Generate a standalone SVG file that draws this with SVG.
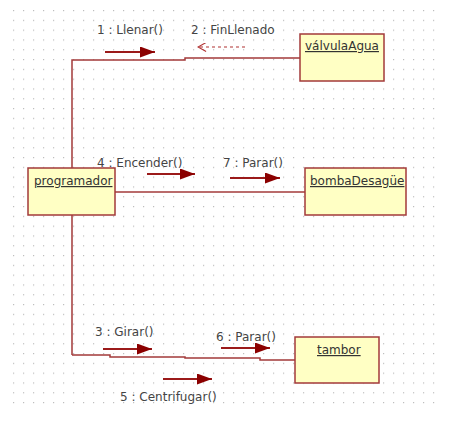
<svg xmlns="http://www.w3.org/2000/svg" width="454" height="425" viewBox="0 0 454 425">
<style>
.node rect{fill:#ffffc4;stroke:#a33a3a;stroke-width:1.5}
.node text{font-family:Tahoma,"DejaVu Sans","Liberation Sans",sans-serif;font-size:12px;fill:#333;text-decoration:underline}
.lbl{font-family:Tahoma,"DejaVu Sans","Liberation Sans",sans-serif;font-size:12px;fill:#444}
.link{fill:none;stroke:#a33a3a;stroke-width:1.5}
.msg{stroke:#9b1a1a;stroke-width:2;fill:none}
.ret{stroke:#b03030;stroke-width:1.2;fill:none;stroke-dasharray:3,3}
</style>
<defs>
<pattern id="grid" x="13" y="10" width="10" height="9.8" patternUnits="userSpaceOnUse">
<rect x="0" y="0" width="1.2" height="1.2" fill="#bdbdbd"/>
</pattern>
<marker id="fa" viewBox="0 0 15 11" refX="15" refY="5.5" markerWidth="15" markerHeight="11" markerUnits="userSpaceOnUse" orient="auto">
<path d="M0,0 L15,5.5 L0,11 Z" fill="#8b0000"/>
</marker>
<marker id="oa" viewBox="0 0 10 10" refX="9" refY="5" markerWidth="10" markerHeight="9" markerUnits="userSpaceOnUse" orient="auto">
<path d="M0,0 L9,5 L0,10" fill="none" stroke="#b03030" stroke-width="1.2"/>
</marker>
</defs>
<rect width="454" height="425" fill="#fff"/>
<rect x="10" y="8" width="430" height="402" fill="url(#grid)"/>
<g id="connectors">
<polyline class="link" points="72,355 72,60 185,60 185,58 300,58"/>
<line class="link" x1="115" y1="192" x2="305" y2="192"/>
<polyline class="link" points="72,355 110,355 110,357 185,357 185,358 260,358 260,360 295,360"/>
<line class="msg" x1="105" y1="52" x2="155" y2="52" marker-end="url(#fa)"/>
<line class="ret" x1="245" y1="47" x2="198" y2="47" marker-end="url(#oa)"/>
<line class="msg" x1="147" y1="174" x2="195" y2="174" marker-end="url(#fa)"/>
<line class="msg" x1="230" y1="178" x2="280" y2="178" marker-end="url(#fa)"/>
<line class="msg" x1="103" y1="349" x2="152" y2="349" marker-end="url(#fa)"/>
<line class="msg" x1="221" y1="348" x2="270" y2="348" marker-end="url(#fa)"/>
<line class="msg" x1="163" y1="379" x2="212" y2="379" marker-end="url(#fa)"/>
<text class="lbl" x="97" y="34">1 : Llenar()</text>
<text class="lbl" x="191" y="34">2 : FinLlenado</text>
<text class="lbl" x="97" y="167">4 : Encender()</text>
<text class="lbl" x="223" y="167">7 : Parar()</text>
<text class="lbl" x="95" y="336">3 : Girar()</text>
<text class="lbl" x="216" y="341">6 : Parar()</text>
<text class="lbl" x="120" y="401">5 : Centrifugar()</text>
</g>
<g id="valvulaAgua" class="node">
<rect x="300" y="34" width="84" height="47"/>
<text x="305" y="50">válvulaAgua</text>
</g>
<g id="programador" class="node">
<rect x="28" y="168" width="87" height="47"/>
<text x="34" y="185">programador</text>
</g>
<g id="bombaDesague" class="node">
<rect x="305" y="168" width="101" height="47"/>
<text x="310" y="185">bombaDesagüe</text>
</g>
<g id="tambor" class="node">
<rect x="295" y="337" width="84" height="46"/>
<text x="317" y="354">tambor</text>
</g>
</svg>
